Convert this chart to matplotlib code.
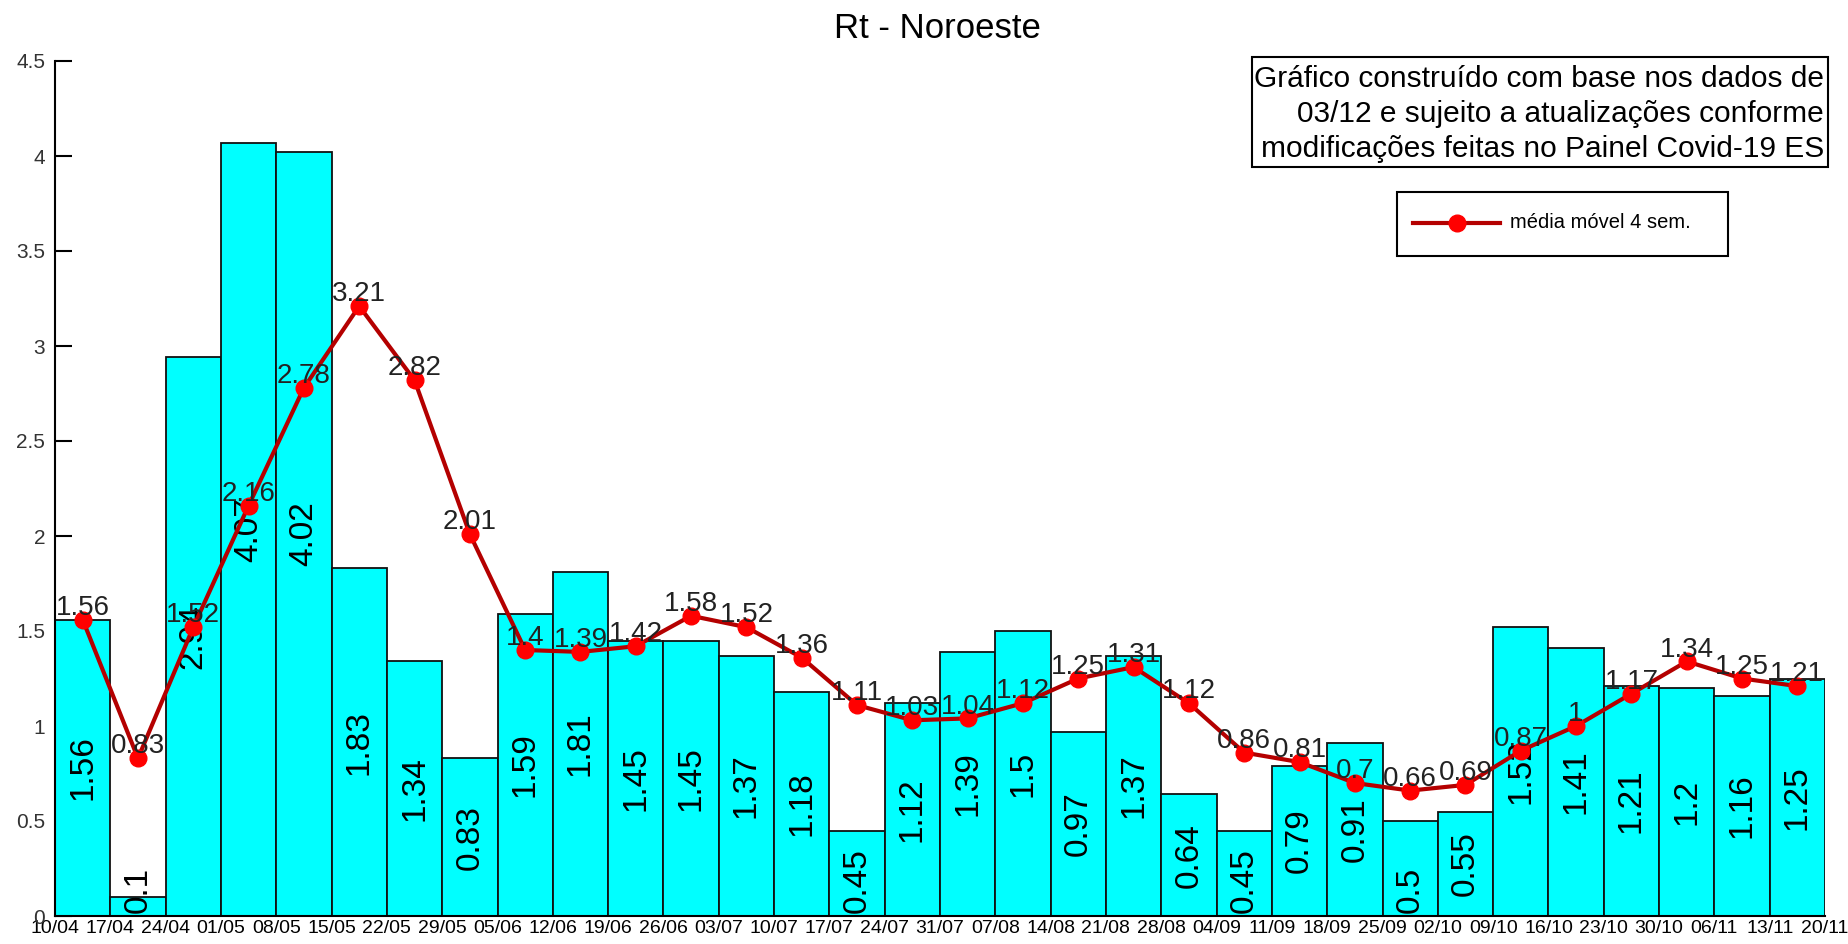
import matplotlib
matplotlib.use("Agg")
import matplotlib.pyplot as plt
from matplotlib.patches import Rectangle
from matplotlib.lines import Line2D
import numpy as np

# ==================================================
# Data
# ==================================================

week_labels = ['10/04', '17/04', '24/04', '01/05', '08/05', '15/05', '22/05',
               '29/05', '05/06', '12/06', '19/06', '26/06', '03/07', '10/07',
               '17/07', '24/07', '31/07', '07/08', '14/08', '21/08', '28/08',
               '04/09', '11/09', '18/09', '25/09', '02/10', '09/10', '16/10',
               '23/10', '30/10', '06/11', '13/11', '20/11']

rt_week = [1.56, 0.1, 2.94, 4.07, 4.02, 1.83, 1.34, 0.83, 1.59, 1.81, 1.45,
           1.45, 1.37, 1.18, 0.45, 1.12, 1.39, 1.5, 0.97, 1.37, 0.64, 0.45,
           0.79, 0.91, 0.5, 0.55, 1.52, 1.41, 1.21, 1.2, 1.16, 1.25]

rt_mm4 = [1.56, 0.83, 1.52, 2.16, 2.78, 3.21, 2.82, 2.01, 1.4, 1.39, 1.42,
          1.58, 1.52, 1.36, 1.11, 1.03, 1.04, 1.12, 1.25, 1.31, 1.12, 0.86,
          0.81, 0.7, 0.66, 0.69, 0.87, 1, 1.17, 1.34, 1.25, 1.21]

y_ticks = [0, 0.5, 1, 1.5, 2, 2.5, 3, 3.5, 4, 4.5]

title = "Rt - Noroeste"
note = ("Gráfico construído com base nos dados de\n"
        "03/12 e sujeito a atualizações conforme\n"
        "modificações feitas no Painel Covid-19 ES")
legend_label = "média móvel 4 sem."

# ==================================================
# Plot
# ==================================================

plt.rcParams['font.family'] = ['Liberation Sans', 'DejaVu Sans']

W, H = 1848, 944
fig = plt.figure(figsize=(W / 100, H / 100), dpi=100)
ax = fig.add_axes([55 / W, (H - 916) / H, 1770 / W, 855 / H])

x = np.arange(len(rt_week)) + 0.5
ax.bar(x, rt_week, width=1.0, color='#00ffff', edgecolor='#111111',
       linewidth=1.3, zorder=2)

# bar value labels (rotated)
for xi, v in zip(x, rt_week):
    txt = f"{v:g}"
    if v <= 0.5:
        ax.text(xi, 0.015, txt, rotation=90, ha='center', va='bottom',
                fontsize=24, color='black', zorder=3)
    else:
        ax.text(xi, v / 2, txt, rotation=90, ha='center', va='center',
                fontsize=24, color='black', zorder=3)

# moving average line
ax.plot(x, rt_mm4, color='#b40000', linewidth=3, zorder=4)
ax.plot(x, rt_mm4, linestyle='none', marker='o', markersize=12,
        markerfacecolor='#ff0000', markeredgecolor='#ff0000', zorder=5)
for xi, v in zip(x, rt_mm4):
    ax.annotate(f"{v:g}", (xi, v), xytext=(0, 3.5), textcoords='offset points',
                ha='center', va='baseline', fontsize=20, color='#222222',
                zorder=6)

ax.set_xlim(0, len(rt_week))
ax.set_ylim(0, 4.5)
ax.set_yticks(y_ticks)
ax.set_yticklabels([f"{t:g}" for t in y_ticks])
ax.set_xticks(np.arange(len(week_labels)))
ax.set_xticklabels(week_labels, fontsize=14)
ax.tick_params(axis='x', length=0, pad=3)
ax.tick_params(axis='y', direction='in', length=12, width=1.5, pad=7,
               labelsize=15, labelcolor='#333333')
for side in ['top', 'right']:
    ax.spines[side].set_visible(False)
for side in ['left', 'bottom']:
    ax.spines[side].set_linewidth(1.5)
ax.set_facecolor('white')

fig.text(937 / W, 1 - 28 / H, title, ha='center', va='center', fontsize=25)

# note box
fig.patches.append(Rectangle((1252 / W, 1 - 167 / H), 576 / W, 110 / H,
                             transform=fig.transFigure, fill=False,
                             edgecolor='black', linewidth=1.5))
fig.text(1824 / W, 1 - 114 / H, note, ha='right', va='center',
         multialignment='right', fontsize=21.5, linespacing=1.3)

# legend box
fig.patches.append(Rectangle((1397 / W, 1 - 256 / H), 331 / W, 64 / H,
                             transform=fig.transFigure, fill=False,
                             edgecolor='black', linewidth=1.5))
fig.lines.append(Line2D([1413 / W, 1500 / W], [1 - 223 / H, 1 - 223 / H],
                        transform=fig.transFigure, color='#b40000',
                        linewidth=3))
fig.lines.append(Line2D([1457 / W], [1 - 223 / H], transform=fig.transFigure,
                        marker='o', markersize=12, color='#ff0000',
                        linestyle='none'))
fig.text(1510 / W, 1 - 223 / H, legend_label, ha='left', va='center',
         fontsize=14.5)

fig.savefig("out.png", dpi=100)
